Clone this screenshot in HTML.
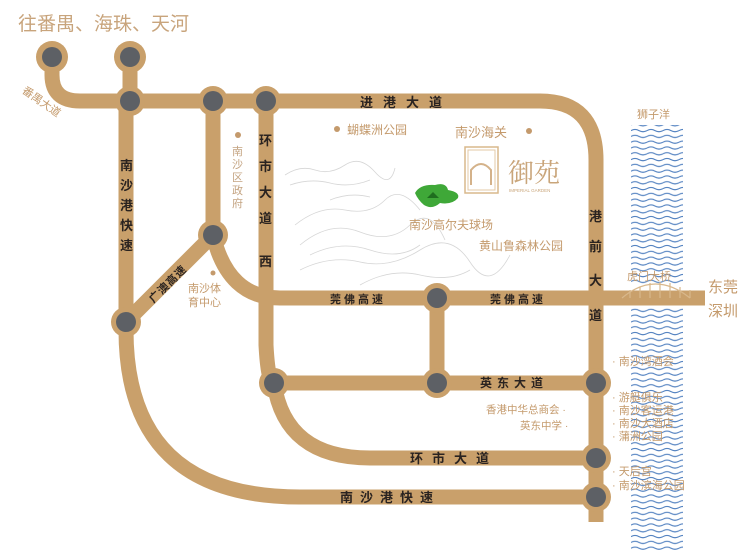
<!DOCTYPE html>
<html><head><meta charset="utf-8"><style>
html,body{margin:0;padding:0;background:#fff;}
svg{display:block;font-family:"Liberation Sans","Noto Sans CJK SC",sans-serif;}
</style></head><body>
<svg width="750" height="560" viewBox="0 0 750 560" xmlns="http://www.w3.org/2000/svg">
<defs>
<pattern id="wv" x="631" y="0" width="16" height="5.8" patternUnits="userSpaceOnUse">
<path d="M0 3 Q4 0.8 8 3 T16 3" fill="none" stroke="#4f7fbf" stroke-width="1.1"/>
</pattern>
</defs>
<rect width="750" height="560" fill="#fff"/>
<!-- mountains -->
<g fill="none" stroke="#d6d6d6" stroke-width="0.8">
<path d="M285 175 Q300 165 315 170 T345 165 T375 172 T395 168"/>
<path d="M290 185 Q310 178 330 183 T370 180"/>
<path d="M295 225 Q320 205 345 210 T385 200 T420 210"/>
<path d="M300 245 Q330 220 360 232 T410 225 T445 240"/>
<path d="M310 255 Q340 240 370 250 T420 245"/>
<path d="M300 270 Q330 255 360 262 T420 250 T470 262 T510 255"/>
<path d="M360 285 Q390 268 420 275 T470 270"/>
<path d="M330 200 Q350 192 370 197"/>
</g>
<!-- roads -->
<g fill="none" stroke="#c9a06b" stroke-width="15" stroke-linecap="butt">
<path d="M52 57 L52 75 Q52 101 80 101 L540 101 Q596 101 596 160 L596 522"/>
<path d="M130 57 L130 101"/>
<path d="M126 101 L126 330 Q126 497 300 497 L596 497"/>
<path d="M213 101 L213 235"/>
<path d="M213 235 L126 322"/>
<path d="M213 235 Q228 298 280 298 L705 298"/>
<path d="M266 101 L266 345 Q268 383 274 383 L596 383"/>
<path d="M274 383 Q285 458 370 458 L596 458"/>
<path d="M437 298 L437 383"/>
</g>
<path d="M596 298 L705 298" stroke="#c9a06b" stroke-width="7"/>
<!-- river -->
<rect x="631" y="125" width="52" height="160" fill="url(#wv)"/>
<rect x="631" y="307" width="52" height="243" fill="url(#wv)"/>
<!-- bridge -->
<g fill="none" stroke="#d9b88c" stroke-width="1.2">
<path d="M622 298 Q655 270 690 298"/>
<path d="M630 298 L630 290 M690 298 L690 290 M640 287 L640 298 M650 283 L650 298 M660 282 L660 298 M670 283 L670 298 M680 287 L680 298"/>
</g>
<!-- nodes -->
<g>
<g fill="#c9a06b">
<circle cx="52" cy="57" r="16"/><circle cx="130" cy="57" r="16"/>
<circle cx="130" cy="101" r="15"/><circle cx="213" cy="101" r="15"/><circle cx="266" cy="101" r="15"/>
<circle cx="213" cy="235" r="15"/><circle cx="126" cy="322" r="15"/>
<circle cx="437" cy="298" r="15"/><circle cx="274" cy="383" r="15"/><circle cx="437" cy="383" r="15"/>
<circle cx="596" cy="383" r="15"/><circle cx="596" cy="458" r="15"/><circle cx="596" cy="497" r="15"/>
</g>
<g fill="#5d6065">
<circle cx="52" cy="57" r="10"/><circle cx="130" cy="57" r="10"/>
<circle cx="130" cy="101" r="10"/><circle cx="213" cy="101" r="10"/><circle cx="266" cy="101" r="10"/>
<circle cx="213" cy="235" r="10"/><circle cx="126" cy="322" r="10"/>
<circle cx="437" cy="298" r="10"/><circle cx="274" cy="383" r="10"/><circle cx="437" cy="383" r="10"/>
<circle cx="596" cy="383" r="10"/><circle cx="596" cy="458" r="10"/><circle cx="596" cy="497" r="10"/>
</g>
</g>
<!-- golf -->
<path d="M415 193 Q420 184 435 185 Q446 182 448 190 Q460 192 458 198 Q452 205 440 203 Q432 210 424 205 Q418 200 415 193Z" fill="#3fa838"/>
<path d="M427 198 L433 192 L439 198Z" fill="#1f6e1f"/>
<!-- logo -->
<rect x="465" y="147" width="33" height="46" fill="none" stroke="#d9b88c" stroke-width="1.5"/>
<rect x="468" y="150" width="27" height="40" fill="none" stroke="#e3c9a6" stroke-width="1"/>
<path d="M471 185 L471 170 Q481 158 491 170 L491 185" fill="none" stroke="#d4b28a" stroke-width="2"/>
<text x="508" y="182" font-size="26" fill="#c9a57a" font-family="Liberation Serif,'Noto Serif CJK SC',serif">御苑</text>
<text x="509" y="192" font-size="4.5" fill="#c9a57a">IMPERIAL GARDEN</text>
<!-- labels -->
<g fill="#c49a6c">
<text x="18" y="30" font-size="19" fill="#c8a47c">往番禺、海珠、天河</text>
<text x="23" y="97" font-size="11" transform="rotate(35 30 92)">番禺大道</text>
<text x="347" y="134" font-size="12">蝴蝶洲公园</text>
<circle cx="337" cy="129" r="3"/>
<text x="455" y="137" font-size="13">南沙海关</text>
<circle cx="529" cy="131" r="3"/>
<text x="409" y="229" font-size="12">南沙高尔夫球场</text>
<text x="479" y="250" font-size="12">黄山鲁森林公园</text>
<text x="637" y="118" font-size="11">狮子洋</text>
<text x="708" y="292" font-size="15">东莞</text>
<text x="708" y="316" font-size="15">深圳</text>
<text x="627" y="280" font-size="11">虎门大桥</text>
<circle cx="238" cy="135" r="3"/>
<g font-size="11" fill="#c4a482"><text x="232" y="155">南</text><text x="232" y="168">沙</text><text x="232" y="181">区</text><text x="232" y="194">政</text><text x="232" y="207">府</text></g>
<circle cx="213" cy="273" r="2.5"/>
<text x="188" y="292" font-size="11">南沙体</text>
<text x="188" y="306" font-size="11">育中心</text>
<text x="486" y="413" font-size="10.5">香港中华总商会 ·</text>
<text x="520" y="429" font-size="10.5">英东中学 ·</text>
<g font-size="11"><text x="612" y="365">· 南沙湾酒会</text><text x="612" y="401">· 游艇俱乐</text><text x="612" y="414">· 南沙客运港</text><text x="612" y="427">· 南沙大酒店</text><text x="612" y="440">· 蒲洲公园</text><text x="612" y="475">· 天后宫</text><text x="612" y="489">· 南沙滨海公园</text></g>
</g>
<g fill="#2a2320" font-weight="bold" font-size="13">
<text x="360" y="107" letter-spacing="10">进港大道</text>
<g><text x="120" y="170">南</text><text x="120" y="190">沙</text><text x="120" y="210">港</text><text x="120" y="230">快</text><text x="120" y="250">速</text></g>
<g><text x="259" y="145">环</text><text x="259" y="171">市</text><text x="259" y="197">大</text><text x="259" y="223">道</text><text x="259" y="266">西</text></g>
<g><text x="589" y="221">港</text><text x="589" y="251">前</text><text x="589" y="285">大</text><text x="589" y="320">道</text></g>
<text x="330" y="303" font-size="11" letter-spacing="3">莞佛高速</text>
<text x="490" y="303" font-size="11" letter-spacing="3">莞佛高速</text>
<text x="480" y="387" font-size="12" letter-spacing="5">英东大道</text>
<text x="410" y="463" letter-spacing="9">环市大道</text>
<text x="340" y="502" letter-spacing="7">南沙港快速</text>
<text x="150" y="305" font-size="11" transform="rotate(-45 150 300)" letter-spacing="1">广澳高速</text>
</g>
</svg>
</body></html>
